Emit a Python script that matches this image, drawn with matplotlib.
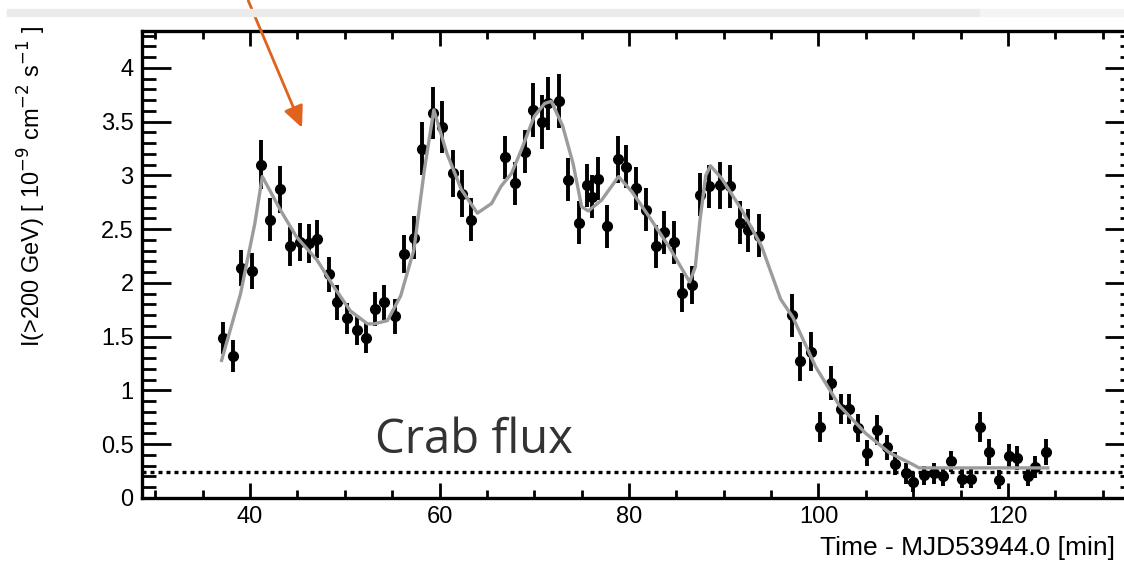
import matplotlib
matplotlib.use('Agg')
import matplotlib.pyplot as plt
from matplotlib.ticker import MultipleLocator, FuncFormatter
from matplotlib.patches import Rectangle

# flux points: time [min], I(>200 GeV), error
t = [37.2, 38.2, 39.1, 40.2, 41.2, 42.1, 43.2, 44.2, 45.3, 46.2, 47.1, 48.3,
     49.2, 50.2, 51.3, 52.2, 53.2, 54.1, 55.3, 56.2, 57.3, 58.2, 59.3, 60.3,
     61.4, 62.4, 63.3, 66.9, 68.0, 69.0, 69.9, 70.8, 71.5, 72.6, 73.6, 74.7,
     75.6, 76.1, 76.7, 77.7, 78.8, 79.7, 80.7, 81.8, 82.8, 83.7, 84.7, 85.6,
     86.6, 87.5, 88.4, 89.6, 90.7, 91.7, 92.6, 93.7, 97.2, 98.1, 99.2, 100.2,
     101.3, 102.4, 103.2, 104.2, 105.1, 106.2, 107.2, 108.1, 109.2, 110.0,
     111.1, 112.2, 113.1, 114.0, 115.1, 116.1, 117.0, 118.0, 119.0, 120.1,
     121.0, 122.1, 122.9, 124.0]
flux = [1.49, 1.32, 2.14, 2.11, 3.10, 2.59, 2.87, 2.34, 2.38, 2.37, 2.41, 2.08,
        1.82, 1.67, 1.56, 1.49, 1.76, 1.82, 1.69, 2.27, 2.42, 3.25, 3.58, 3.45,
        3.02, 2.83, 2.59, 3.17, 2.93, 3.22, 3.61, 3.50, 3.67, 3.69, 2.96, 2.56,
        2.91, 2.80, 2.97, 2.53, 3.15, 3.08, 2.88, 2.68, 2.34, 2.47, 2.38, 1.91,
        1.98, 2.82, 2.90, 2.91, 2.90, 2.56, 2.49, 2.44, 1.70, 1.27, 1.36, 0.66,
        1.07, 0.83, 0.83, 0.65, 0.42, 0.63, 0.47, 0.32, 0.23, 0.15,
        0.21, 0.23, 0.20, 0.34, 0.18, 0.18, 0.66, 0.43, 0.17, 0.39,
        0.37, 0.20, 0.29, 0.43]
err = [0.15, 0.15, 0.17, 0.17, 0.23, 0.20, 0.22, 0.18, 0.18, 0.18, 0.18, 0.16,
       0.16, 0.14, 0.14, 0.14, 0.16, 0.16, 0.16, 0.18, 0.20, 0.25, 0.24, 0.24,
       0.22, 0.22, 0.20, 0.20, 0.20, 0.20, 0.25, 0.25, 0.25, 0.25, 0.20, 0.20,
       0.20, 0.20, 0.20, 0.20, 0.22, 0.20, 0.20, 0.20, 0.20, 0.20, 0.20, 0.18,
       0.18, 0.20, 0.20, 0.22, 0.20, 0.20, 0.20, 0.20, 0.20, 0.18, 0.18, 0.14,
       0.16, 0.14, 0.14, 0.13, 0.12, 0.14, 0.12, 0.11, 0.10, 0.09,
       0.09, 0.10, 0.09, 0.10, 0.09, 0.09, 0.14, 0.12, 0.09, 0.11,
       0.11, 0.09, 0.10, 0.12]

# fitted light curve (sum of flares)
fit_t = [37.0, 39.0, 40.5, 41.3, 43.2, 44.9, 47.1, 48.8, 50.6, 52.4, 53.1,
         54.5, 55.9, 57.3, 58.4, 59.4, 60.8, 62.3, 64.0, 65.5, 66.5, 67.6,
         68.6, 70.0, 71.1, 71.8, 73.0, 74.1, 75.0, 75.7, 77.1, 78.9, 80.3,
         82.1, 84.2, 86.4, 87.0, 87.5, 88.1, 88.6, 89.8, 91.9, 94.0, 96.0,
         97.3, 99.7, 102.2, 105.0, 107.5, 110.0, 110.6, 124.2]
fit_f = [1.28, 1.90, 2.55, 2.99, 2.68, 2.43, 2.21, 1.97, 1.74, 1.62, 1.62,
         1.65, 1.88, 2.31, 3.05, 3.61, 3.20, 2.87, 2.65, 2.74, 2.90, 3.02,
         3.23, 3.55, 3.67, 3.69, 3.46, 3.11, 2.71, 2.67, 2.77, 2.99, 2.85,
         2.62, 2.34, 2.01, 2.15, 2.59, 3.00, 3.09, 2.97, 2.68, 2.34, 1.85,
         1.68, 1.22, 0.86, 0.60, 0.42, 0.31, 0.28, 0.28]

crab = 0.24

fig = plt.figure(figsize=(11.24, 5.61), dpi=100)
fig.patches.append(Rectangle((7 / 1124, 1 - 16 / 561), 973 / 1124, 7 / 561,
                             transform=fig.transFigure, color='#ebebeb', zorder=0))
fig.patches.append(Rectangle((980 / 1124, 1 - 16 / 561), 144 / 1124, 7 / 561,
                             transform=fig.transFigure, color='#f4f4f4', zorder=0))

ax = fig.add_axes([142 / 1124, 63 / 561, 992 / 1124, 467 / 561])

ax.errorbar(t, flux, yerr=err, fmt='o', color='black', ms=7, elinewidth=2.8,
            capsize=0, zorder=3)
ax.plot(fit_t, fit_f, color='#9c9c9c', lw=2.4, zorder=4)
ax.axhline(crab, color='black', lw=2.4, ls=(0, (1.2, 1.2)), zorder=2)

ax.text(53.2, 0.42, 'Crab flux', fontsize=34, family='Open Sans',
        color='#333333', va='baseline')

ax.annotate('', xy=(45.6, 3.42), xytext=(39.7, 4.65), annotation_clip=False,
            arrowprops=dict(arrowstyle='-|>,head_length=1.3,head_width=0.6',
                            color='#e0621c', lw=2))

ax.set_xlim(28.6, 133.3)
ax.set_ylim(0, 4.344)

ax.xaxis.set_major_locator(MultipleLocator(20))
ax.xaxis.set_minor_locator(MultipleLocator(5))
ax.yaxis.set_major_locator(MultipleLocator(0.5))
ax.yaxis.set_minor_locator(MultipleLocator(0.1))
ax.yaxis.set_major_formatter(FuncFormatter(lambda v, p: '%g' % v))

ax.tick_params(which='both', direction='in', top=True, right=True, width=2,
               labelsize=17, colors='black')
ax.tick_params(axis='x', which='major', length=11, pad=6)
ax.tick_params(axis='x', which='minor', length=6)
ax.tick_params(axis='y', which='major', length=21, pad=6)
ax.tick_params(axis='y', which='minor', length=10)
for lab in ax.get_xticklabels() + ax.get_yticklabels():
    lab.set_family('Liberation Sans')
for s in ax.spines.values():
    s.set_linewidth(2.4)

fig.text(1115 / 1124, 1 - 548 / 561, 'Time - MJD53944.0 [min]', fontsize=19,
         family='Liberation Sans', ha='right', va='center')
fig.text(32 / 1124, 1 - 26 / 561,
         r'I(>200 GeV) [ 10$^{-9}$ cm$^{-2}$ s$^{-1}$ ]', fontsize=17,
         family='Liberation Sans', rotation=90, ha='center', va='top')

fig.savefig('out.png', dpi=100)
